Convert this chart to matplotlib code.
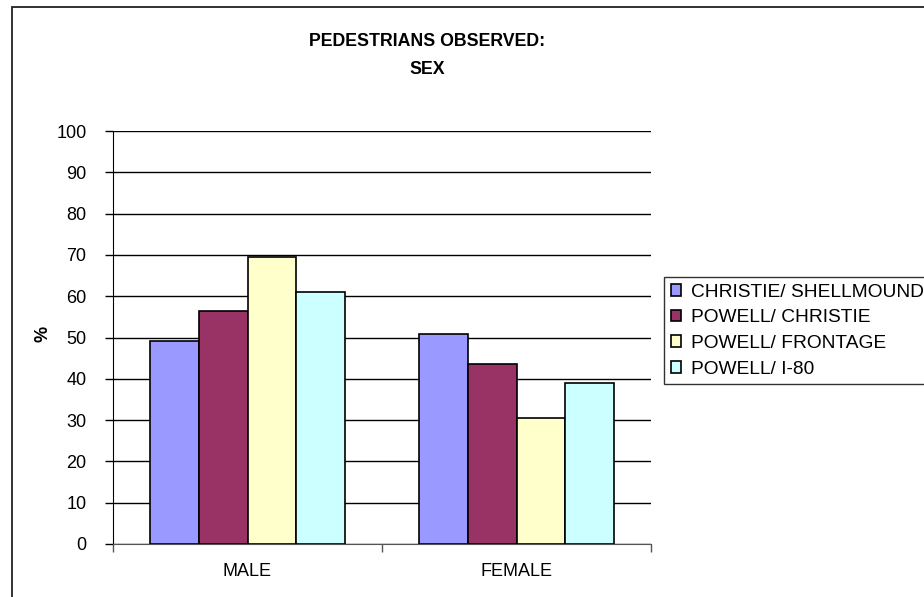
import matplotlib
matplotlib.use("Agg")
import matplotlib.pyplot as plt
import matplotlib.patches as mpatches
import numpy as np

plt.rcParams['font.family'] = ['Liberation Sans', 'DejaVu Sans']

categories = ["MALE", "FEMALE"]
series_names = ["CHRISTIE/ SHELLMOUND", "POWELL/ CHRISTIE", "POWELL/ FRONTAGE", "POWELL/ I-80"]
values = {
    "CHRISTIE/ SHELLMOUND": [49.2, 50.8],
    "POWELL/ CHRISTIE": [56.4, 43.6],
    "POWELL/ FRONTAGE": [69.6, 30.4],
    "POWELL/ I-80": [61.1, 38.9],
}
colors = ["#9999FF", "#993366", "#FFFFCC", "#CCFFFF"]
yticks = list(range(0, 101, 10))
title_lines = ["PEDESTRIANS OBSERVED:", "SEX"]

W, H = 924, 597
fig = plt.figure(figsize=(W / 100, H / 100), dpi=100)
fig.patch.set_facecolor("white")

# outer chart-area frame (extends past the right and bottom edges)
frame = mpatches.Rectangle((12 / W, -0.2), 1.3, 1.2 - 7 / H,
                           transform=fig.transFigure, fill=False,
                           edgecolor="#222222", linewidth=1.3, clip_on=False)
fig.patches.append(frame)

ax = fig.add_axes([113 / W, 1 - 544 / H, (651 - 113) / W, (544 - 131) / H])

n = len(series_names)
bar_w = 1 / 5.5
x = np.arange(len(categories))
for i, name in enumerate(series_names):
    offs = (i - (n - 1) / 2) * bar_w
    ax.bar(x + offs, values[name], width=bar_w, color=colors[i],
           edgecolor="black", linewidth=1.2, label=name, zorder=3)

ax.set_xlim(-0.5, len(categories) - 0.5)
ax.set_ylim(0, 100)
ax.set_yticks(yticks)
ax.set_yticklabels([str(t) for t in yticks], fontsize=13)
ax.yaxis.grid(True, color="black", linewidth=1.0, zorder=0)
ax.set_axisbelow(True)

# category labels centred, tick marks at the boundaries
ax.set_xticks(x)
ax.set_xticklabels(categories, fontsize=13)
ax.tick_params(axis="x", length=0, pad=14)
ax.set_xticks(np.arange(-0.5, len(categories), 1.0), minor=True)
ax.tick_params(axis="x", which="minor", length=6, width=1, color="#555555")
ax.tick_params(axis="y", length=6, width=1, pad=13)

for s in ["top", "right"]:
    ax.spines[s].set_visible(False)
ax.spines["left"].set_color("black")
ax.spines["bottom"].set_color("#555555")

fig.text(43 / W, 1 - 334 / H, "%", rotation=90, fontsize=13, fontweight="bold",
         ha="center", va="center")

for line, ypx in zip(title_lines, [41, 70]):
    fig.text(427 / W, 1 - ypx / H, line, fontsize=12.8,
             fontweight="bold", ha="center", va="center")

leg = fig.legend(loc="upper left", bbox_to_anchor=(664 / W, 1 - 277 / H),
                 fontsize=13.8, frameon=True, fancybox=False, handlelength=0.55,
                 handleheight=0.55, handletextpad=0.5, borderpad=0.35,
                 labelspacing=0.45, borderaxespad=0)
leg.get_frame().set_edgecolor("black")
leg.get_frame().set_linewidth(1.0)

fig.savefig("out.png", dpi=100)
